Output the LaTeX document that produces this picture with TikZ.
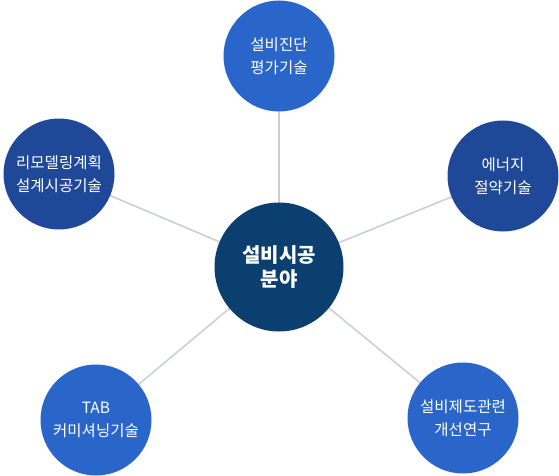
\documentclass[tikz,border=0pt]{standalone}
\usepackage{fontspec}
\setmainfont{Noto Sans CJK KR}
\begin{document}
\begin{tikzpicture}[x=1pt,y=-1pt,
  outer/.style={circle, minimum size=111pt, inner sep=0pt, text=white, align=center, font=\fontsize{15.5}{22.5}\selectfont},
  hub/.style={circle, minimum size=129pt, inner sep=0pt, text=white, align=center, fill=hubblue, font=\fontsize{20}{23.5}\selectfont\bfseries}]
\definecolor{bright}{HTML}{2A66CA}
\definecolor{deep}{HTML}{1F4998}
\definecolor{hubblue}{HTML}{0B3F6F}
\definecolor{spokegray}{HTML}{CBD0D6}
\useasboundingbox (0,0) rectangle (559,476);
\coordinate (hc) at (279,267);
\coordinate (tc) at (279,56);
\coordinate (lc) at (59,174);
\coordinate (rc) at (503,176);
\coordinate (blc) at (96,420);
\coordinate (brc) at (463,418);
\foreach \p in {tc,lc,rc,blc,brc} \draw[draw=spokegray, line width=1.6pt] (hc) -- (\p);
\node[outer, fill=bright] (top) at (tc) {설비진단\\평가기술};
\node[outer, fill=deep] (left) at (lc) {리모델링계획\\설계시공기술};
\node[outer, fill=deep] (right) at (rc) {에너지\\절약기술};
\node[outer, fill=bright] (bl) at (blc) {TAB\\커미셔닝기술};
\node[outer, fill=bright] (br) at (brc) {설비제도관련\\개선연구};
\node[hub] (hub) at (hc) {설비시공\\분야};
\end{tikzpicture}
\end{document}
